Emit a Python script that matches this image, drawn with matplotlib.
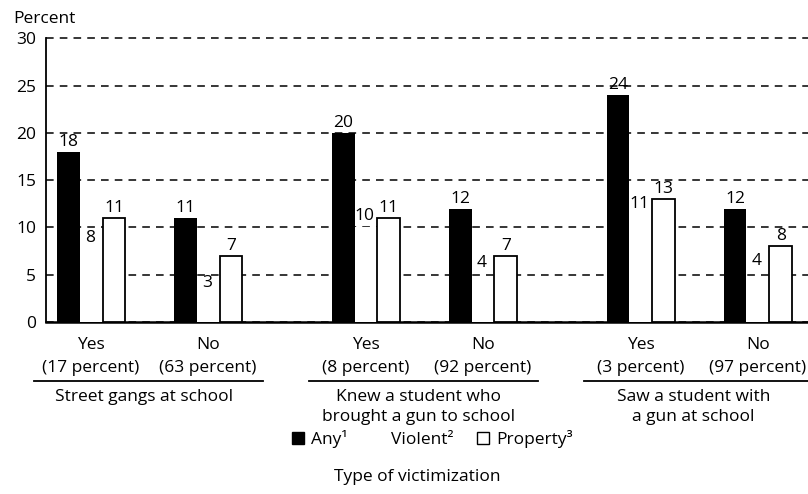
import matplotlib
matplotlib.use('Agg')
import matplotlib.pyplot as plt
from matplotlib.patches import Patch
import numpy as np

plt.rcParams['font.family'] = ['Open Sans', 'DejaVu Sans']
plt.rcParams['font.size'] = 12.5

# Data
groups = ['Street gangs at school',
          'Knew a student who\nbrought a gun to school',
          'Saw a student with\na gun at school']
answers = ['Yes\n(17 percent)', 'No\n(63 percent)',
           'Yes\n(8 percent)', 'No\n(92 percent)',
           'Yes\n(3 percent)', 'No\n(97 percent)']
any_vals = [18, 11, 20, 12, 24, 12]
violent_vals = [8, 3, 10, 4, 11, 4]
property_vals = [11, 7, 11, 7, 13, 8]
series_names = ['Any¹', 'Violent²', 'Property³']

# label nudges for the (invisible) violent bars
violent_dy = [0.9, 1.1, 1.2, 2.2, 1.5, 2.5]

fig = plt.figure(figsize=(8.08, 4.94), dpi=100)
ax = fig.add_axes([46 / 808, 172 / 494, 1 - 46 / 808, 285 / 494])

x = np.array([g * 2.35 + i for g in range(3) for i in range(2)])
w = 0.196

ax.bar(x - w, any_vals, w, color='black', zorder=3)
ax.bar(x, violent_vals, w, color='white', zorder=3)
ax.bar(x + w, property_vals, w, color='white', edgecolor='black', linewidth=1.3, zorder=3)

for xi, a, v, p, dy in zip(x, any_vals, violent_vals, property_vals, violent_dy):
    ax.text(xi - w, a + 0.2, str(a), ha='center', va='bottom', fontsize=12.5)
    ax.text(xi + w, p + 0.2, str(p), ha='center', va='bottom', fontsize=12.5)
    ax.text(xi - 0.01, v + dy, str(v), ha='center', va='center', fontsize=12.5, zorder=4)

ax.set_xlim(-0.385, 6.128)
ax.set_ylim(0, 30.15)
ax.set_yticks(range(0, 31, 5))
ax.tick_params(axis='y', length=0, pad=7, labelsize=12.5)
ax.set_xticks(x)
ax.set_xticklabels(answers, linespacing=1.55)
ax.tick_params(axis='x', length=0, pad=11)

ax.set_axisbelow(True)
ax.yaxis.grid(True, linestyle=(0, (5, 4)), color='black', linewidth=1.1)

for s in ['top', 'right']:
    ax.spines[s].set_visible(False)
ax.spines['left'].set_bounds(0, 30)
ax.spines['left'].set_linewidth(1.3)
ax.spines['bottom'].set_linewidth(1.8)

# group underlines and titles
trans = ax.get_xaxis_transform()
for g, name in enumerate(groups):
    x0, x1 = x[2 * g], x[2 * g + 1]
    ax.plot([x0 - 0.49, x1 + 0.47], [-0.207, -0.207], color='black', lw=1.3,
            transform=trans, clip_on=False)
    ax.text((x0 + x1) / 2 - 0.05, -0.235, name, ha='center', va='top',
            linespacing=1.3, transform=trans)

fig.text(13 / 808, 1 - 19 / 494, 'Percent', ha='left', va='center')

handles = [Patch(facecolor='black', edgecolor='black'),
           Patch(facecolor='white', edgecolor='none'),
           Patch(facecolor='white', edgecolor='black')]
fig.legend(handles, series_names, loc='center', bbox_to_anchor=(0.535, 0.111),
           ncol=3, frameon=False, handlelength=0.7, handleheight=0.7,
           handletextpad=0.4, columnspacing=1.4)
fig.text(417 / 808, 1 - 477 / 494, 'Type of victimization', ha='center', va='center')

fig.savefig('out.png', dpi=100)
